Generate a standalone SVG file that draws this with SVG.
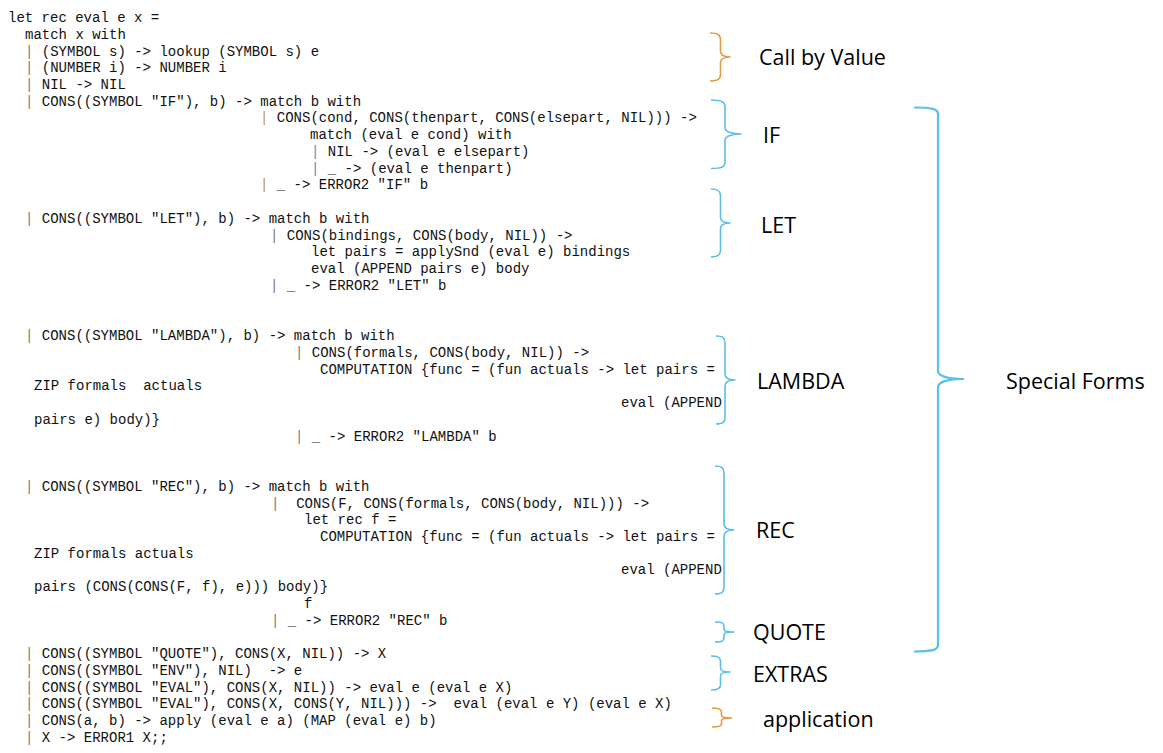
<svg xmlns="http://www.w3.org/2000/svg" width="1163" height="753" viewBox="0 0 1163 753">
<style>
  .code { font-family: "Liberation Mono", "Courier New", monospace; font-size: 14px; fill: #111; white-space: pre; }
  .p { fill: #7a7a7a; }
  .po { fill: #D08A3A; }
  .pb { fill: #4F8FC8; }
  .lbl { font-family: "Open Sans", "Noto Sans", "Liberation Sans", sans-serif; font-size: 21.5px; fill: #000; }
  .bb { fill: none; stroke: #5BBDEA; stroke-width: 1.6; stroke-linejoin: round; }
  .bo { fill: none; stroke: #E39A45; stroke-width: 1.6; stroke-linejoin: round; }
  .big { stroke-width: 2.2; }
</style>
<rect x="0" y="0" width="1163" height="753" fill="#ffffff"/>

<g id="code" class="code">
  <text x="8" y="22">let rec eval e x =</text>
  <text x="25" y="38.7">match x with</text>
  <text x="25" y="55.5"><tspan class="p">|</tspan> (SYMBOL s) -&gt; lookup (SYMBOL s) e</text>
  <text x="25" y="72.2"><tspan class="p">|</tspan> (NUMBER i) -&gt; NUMBER i</text>
  <text x="25" y="89"><tspan class="p">|</tspan> NIL -&gt; NIL</text>
  <text x="25" y="105.7"><tspan class="p">|</tspan> CONS((SYMBOL "IF"), b) -&gt; match b with</text>
  <text x="260" y="122.4"><tspan class="po">|</tspan> CONS(cond, CONS(thenpart, CONS(elsepart, NIL))) -&gt;</text>
  <text x="310" y="139.2">match (eval e cond) with</text>
  <text x="311" y="155.9"><tspan class="pb">|</tspan> NIL -&gt; (eval e elsepart)</text>
  <text x="311" y="172.7"><tspan class="pb">|</tspan> _ -&gt; (eval e thenpart)</text>
  <text x="260" y="189.4"><tspan class="po">|</tspan> _ -&gt; ERROR2 "IF" b</text>

  <text x="25" y="222.9"><tspan class="p">|</tspan> CONS((SYMBOL "LET"), b) -&gt; match b with</text>
  <text x="270" y="239.6"><tspan class="p">|</tspan> CONS(bindings, CONS(body, NIL)) -&gt;</text>
  <text x="311" y="256.4">let pairs = applySnd (eval e) bindings</text>
  <text x="311" y="273.1">eval (APPEND pairs e) body</text>
  <text x="270" y="289.8"><tspan class="p">|</tspan> _ -&gt; ERROR2 "LET" b</text>

  <text x="25" y="340.1"><tspan class="p">|</tspan> CONS((SYMBOL "LAMBDA"), b) -&gt; match b with</text>
  <text x="295" y="356.8"><tspan class="p">|</tspan> CONS(formals, CONS(body, NIL)) -&gt;</text>
  <text x="320" y="373.5">COMPUTATION {func = (fun actuals -&gt; let pairs =</text>
  <text x="34" y="390.3" xml:space="preserve">ZIP formals  actuals</text>
  <text x="621" y="407">eval (APPEND</text>
  <text x="34" y="423.8">pairs e) body)}</text>
  <text x="295" y="440.5"><tspan class="p">|</tspan> _ -&gt; ERROR2 "LAMBDA" b</text>

  <text x="25" y="490.7"><tspan class="p">|</tspan> CONS((SYMBOL "REC"), b) -&gt; match b with</text>
  <text x="271" y="507.5" xml:space="preserve"><tspan class="p">|</tspan>  CONS(F, CONS(formals, CONS(body, NIL))) -&gt;</text>
  <text x="304" y="524.2">let rec f =</text>
  <text x="320" y="541">COMPUTATION {func = (fun actuals -&gt; let pairs =</text>
  <text x="34" y="557.7">ZIP formals actuals</text>
  <text x="621" y="574.4">eval (APPEND</text>
  <text x="34" y="591.2">pairs (CONS(CONS(F, f), e))) body)}</text>
  <text x="304" y="607.9">f</text>
  <text x="271" y="624.6"><tspan class="p">|</tspan> _ -&gt; ERROR2 "REC" b</text>

  <text x="25" y="658.1"><tspan class="p">|</tspan> CONS((SYMBOL "QUOTE"), CONS(X, NIL)) -&gt; X</text>
  <text x="25" y="674.8" xml:space="preserve"><tspan class="p">|</tspan> CONS((SYMBOL "ENV"), NIL)  -&gt; e</text>
  <text x="25" y="691.6"><tspan class="p">|</tspan> CONS((SYMBOL "EVAL"), CONS(X, NIL)) -&gt; eval e (eval e X)</text>
  <text x="25" y="708.3" xml:space="preserve"><tspan class="p">|</tspan> CONS((SYMBOL "EVAL"), CONS(X, CONS(Y, NIL))) -&gt;  eval (eval e Y) (eval e X)</text>
  <text x="25" y="725.1"><tspan class="p">|</tspan> CONS(a, b) -&gt; apply (eval e a) (MAP (eval e) b)</text>
  <text x="25" y="741.8"><tspan class="p">|</tspan> X -&gt; ERROR1 X;;</text>
</g>

<g id="connectors">
  <path id="brace-cbv" class="bo" d="M710,33 C718,33 720.5,35 720.5,40 L720.5,51 C720.5,55 724,57 730,57 C724,57 720.5,59 720.5,63 L720.5,74 C720.5,79 718,81 710,81"/>
  <path id="brace-if" class="bb" d="M711,100 C722,100 725,102 725,107 L725,128 C725,132 733,134 741,134 C733,134 725,136 725,140 L725,162 C725,167 722,168.5 711,168.5"/>
  <path id="brace-let" class="bb" d="M711,189 C718,189 720.5,191 720.5,196 L720.5,217 C720.5,221 724,223 730,223 C724,223 720.5,225 720.5,229 L720.5,250 C720.5,255 718,257 711,257"/>
  <path id="brace-lambda" class="bb" d="M716,336 C723,336 725,338 725,343 L725,374 C725,378 729,380 735,380 C729,380 725,382 725,386 L725,417 C725,422 723,424 716,424"/>
  <path id="brace-rec" class="bb" d="M715,466 C722,466 724,468 724,473 L724,524 C724,528 728,530 734,530 C728,530 724,532 724,536 L724,587 C724,592 722,594 715,594"/>
  <path id="brace-quote" class="bb" d="M715,622 C722,622 724,623 724,626 L724,629.5 C724,631 728,632 734,632 C728,632 724,633 724,634.5 L724,638 C724,641 722,642 715,642"/>
  <path id="brace-extras" class="bb" d="M711,656 C718,656 720.5,657.5 720.5,661 L720.5,668 C720.5,670.5 724,672 730,672 C724,672 720.5,673.5 720.5,676 L720.5,685 C720.5,688.5 718,690 711,690"/>
  <path id="brace-app" class="bo" d="M712,708 C719,708 721.5,709 721.5,712 L721.5,715.5 C721.5,717 725,718 731.5,718 C725,718 721.5,719 721.5,720.5 L721.5,724 C721.5,726 719,727 712,727"/>
  <path id="brace-special" class="bb big" d="M914,107.5 C932,107.5 938,109 938,114 L938,371 C938,376 948,379 963,379 C948,379 938,382 938,387 L938,645 C938,650 932,651.5 914,651.5"/>
</g>

<g id="node-cbv"><text class="lbl" x="759" y="65">Call by Value</text></g>
<g id="node-if"><text class="lbl" x="763" y="143">IF</text></g>
<g id="node-let"><text class="lbl" x="761" y="233">LET</text></g>
<g id="node-lambda"><text class="lbl" x="757" y="389">LAMBDA</text></g>
<g id="node-rec"><text class="lbl" x="756" y="538">REC</text></g>
<g id="node-quote"><text class="lbl" x="753" y="640">QUOTE</text></g>
<g id="node-extras"><text class="lbl" x="753" y="682">EXTRAS</text></g>
<g id="node-app"><text class="lbl" x="763" y="727">application</text></g>
<g id="node-special"><text class="lbl" x="1006" y="389">Special Forms</text></g>
</svg>
